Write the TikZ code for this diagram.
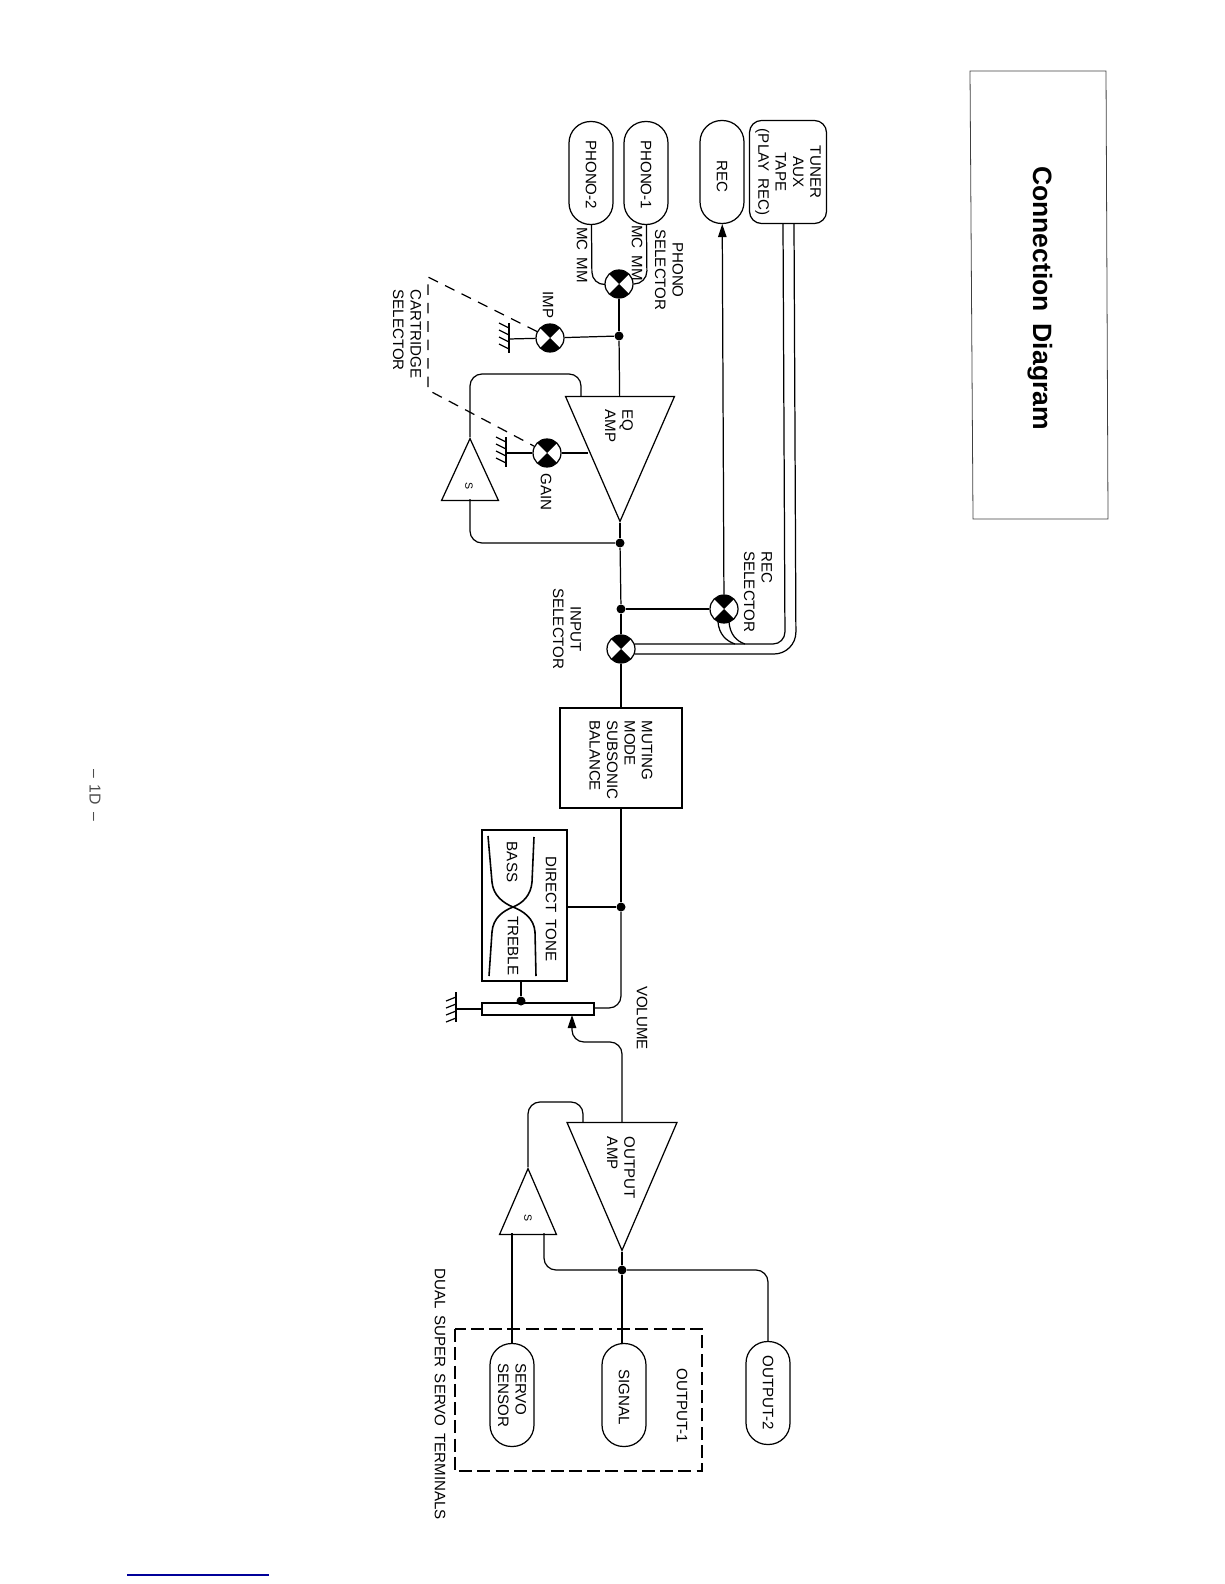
\documentclass[tikz,border=0pt]{standalone}
\usepackage{fontspec}
\setmainfont[WordSpace=1.6]{Liberation Sans}
\usetikzlibrary{arrows.meta, shapes.geometric, positioning}

\begin{document}
\begin{tikzpicture}[
    x=0.02cm, y=-0.02cm,
    font=\fontsize{8.6}{9.9}\selectfont,
    line width=0.7pt,
    lbl/.style={rotate=-90, align=left, inner sep=0},
    lblc/.style={rotate=-90, align=center, inner sep=0},
    jack/.style={draw, rotate=-90, rounded corners=0.43cm, minimum width=2.06cm, minimum height=0.88cm,
                 align=center, inner sep=0},
    sel/.style={draw, circle, minimum size=0.56cm, inner sep=0, path picture={
        \fill (path picture bounding box.center) -- (path picture bounding box.north east)
              -- (path picture bounding box.north west) -- cycle;
        \fill (path picture bounding box.center) -- (path picture bounding box.south east)
              -- (path picture bounding box.south west) -- cycle;}},
    dot/.style={fill, circle, minimum size=0.18cm, inner sep=0},
    amp/.style={draw, isosceles triangle, isosceles triangle stretches, shape border rotate=-90,
                anchor=apex, inner sep=0},
    servo/.style={amp, shape border rotate=90},
    ar/.style={-{Triangle[length=2.6mm, width=1.7mm]}},
    pics/grnd/.style={code={
        \draw (0,-15) -- (0,15);
        \foreach \k in {-10,-3,4,11}
           \draw (0,\k) -- (-10,\k+#1);
    }}
]
\useasboundingbox (0,0) rectangle (1224,1584);

% Title box
\draw[line width=0.45pt, black!75] (970,71) -- (1106,71) -- (1108,519) -- (973,519) -- cycle;
\node[rotate=-90, inner sep=0, font=\fontsize{15.1}{18}\selectfont\bfseries] (title) at (1040,298) {Connection Diagram};

% Input jacks
\node[jack] (phonob) at (591,173) {\hspace*{2pt}PHONO-2};
\node[jack] (phonoa) at (646,173) {\hspace*{2pt}PHONO-1};
\node[jack] (rec) at (722,172) {\hspace*{5pt}REC};
\node[jack, minimum height=1.54cm, rounded corners=0.24cm] (tuner) at (788,172) {TUNER\\AUX\\TAPE\\(PLAY REC)};

% Selectors
\node[sel] (phonosel) at (619,284) {};
\node[sel] (imp) at (550,338) {};
\node[sel] (gain) at (547,453) {};
\node[sel] (recsel) at (724,609) {};
\node[sel] (inputsel) at (621,649) {};

% Junctions
\node[dot] (da) at (619,336) {};
\node[dot] (db) at (620,543) {};
\node[dot] (dc) at (621,609) {};
\node[dot] (dd) at (621,907) {};
\node[dot] (de) at (521,1001) {};
\node[dot] (df) at (622,1270) {};

% Amplifiers
\node[amp, minimum width=2.18cm, minimum height=2.5cm] (eqamp) at (620,523) {};
\node[lbl] (eqlbl) at (619,426) {EQ\\AMP};
\node[servo, minimum width=1.14cm, minimum height=1.24cm] (servoa) at (470,437) {};
\node[rotate=-90, inner sep=0, font=\fontsize{6}{7}\selectfont] (sa) at (469,486) {S};
\node[amp, minimum width=2.2cm, minimum height=2.56cm] (outamp) at (622,1252) {};
\node[lbl] (outlbl) at (621,1168) {OUTPUT\\AMP};
\node[servo, minimum width=1.14cm, minimum height=1.32cm] (servob) at (528,1167) {};
\node[rotate=-90, inner sep=0, font=\fontsize{6}{7}\selectfont] (sb) at (528,1218) {S};

% Blocks
\node[draw, rotate=-90, minimum width=2cm, minimum height=2.44cm] (mute) at (621,758) {};
\node[lbl] (mutelbl) at (621,760) {MUTING\\MODE\\SUBSONIC\\BALANCE};
\node[draw, minimum width=1.7cm, minimum height=3.02cm] (tone) at (524.5,905.5) {};
\node[draw, minimum width=2.24cm, minimum height=0.24cm] (pot) at (538,1009) {};
\node[jack, align=left] (sensor) at (512,1395) {SERVO\\SENSOR};
\node[jack] (signal) at (624,1395) {\hspace*{2pt}SIGNAL};
\node[jack] (outb) at (768,1393) {OUTPUT-2};

% Tone curves
\draw[line width=0.9pt] (488,836) -- (492,882) .. controls (493,895) and (503,903) .. (513,907)
      .. controls (523,911) and (534,918) .. (535,932) -- (536,976);
\draw[line width=0.9pt] (534,837) -- (532,882) .. controls (531,895) and (523,903) .. (513,907)
      .. controls (503,911) and (493,918) .. (492,932) -- (489,976);

% Labels
\node[lblc] (phonolbl) at (669,270) {PHONO\\SELECTOR};
\node[lbl] (mcb) at (582,255) {MC MM};
\node[lbl] (mca) at (637,253) {MC MM};
\node[lbl] (implbl) at (548,305) {IMP};
\node[lbl] (cartlbl) at (407,334) {CARTRIDGE\\SELECTOR};
\node[lbl] (gainlbl) at (546,492) {GAIN};
\node[lbl] (reclbl) at (758,592) {REC\\SELECTOR};
\node[lblc] (inputlbl) at (567,629) {INPUT\\SELECTOR};
\node[lbl] (directlbl) at (551,909) {DIRECT TONE};
\node[lbl] (basslbl) at (512,862) {BASS};
\node[lbl] (treblelbl) at (513,946) {TREBLE};
\node[lbl] (vollbl) at (642,1018) {VOLUME};
\node[lbl] (outalbl) at (682,1406) {OUTPUT-1};
\node[lbl] (duallbl) at (440,1394) {DUAL SUPER SERVO TERMINALS};
\node[rotate=-90, inner sep=0, black!70, font=\fontsize{9}{10}\selectfont] (page) at (95,795) {-- 1D --};

% Signal path
\foreach \a/\b in {phonosel/da, da/eqamp, eqamp.apex/db, db/dc, dc/inputsel, inputsel/mute, da/imp, dc/recsel, outamp.apex/df}
   \draw (\a) -- (\b);
\draw (dd) -- (tone.east |- dd);
\draw (mute) -- (dd);
\draw (df) -- (df |- signal.west);
\draw (gain) -- (588,453);
\draw[ar] (recsel) -- (rec);
\draw[rounded corners=0.26cm] (phonob) -- (592,285) -- (phonosel);
\draw[rounded corners=0.26cm] (phonoa) -- (647,284) -- (phonosel);

% Tape loop
\draw[rounded corners=0.24cm] (783,224) -- (785,644) -- (inputsel.20);
\draw[rounded corners=0.44cm] (794,224) -- (796,654) -- (inputsel.-20);
\draw (718,622) .. controls (719,634) and (726,641) .. (735,644);
\draw (729,622) .. controls (730,634) and (736,641) .. (745,644);

% Feedback loops
\draw[rounded corners=0.24cm] (581,396) -- (581,374) -- (470,374) -- (servoa.apex);
\draw[rounded corners=0.24cm] (470,499) -- (470,543) -- (db);
\draw[rounded corners=0.24cm] (583,1122) -- (583,1102) -- (528,1102) -- (servob.apex);
\draw[rounded corners=0.24cm] (544,1233) -- (544,1270) -- (df);
\draw[rounded corners=0.24cm] (df) -- (768,1270) -- (outb);
\draw (512,1233) -- (sensor);

% Volume
\draw[rounded corners=0.24cm] (dd) -- (621,1008) -- (594,1008);
\draw (521,981) -- (de);
\draw (pot.west) -- (456,1009);
\coordinate (wiper) at (572,1015);
\draw[rounded corners=0.24cm, ar] (622,1122) -- (622,1042) -- (572,1042) -- (wiper);

% Ground symbols
\draw (imp) -- (509,339);
\draw (gain) -- (506,453);
\pic at (509,338) {grnd=-5};
\pic at (506,452) {grnd=-5};
\pic at (456,1007) {grnd=4};

% Cartridge link
\draw[dash pattern=on 6pt off 4.5pt] (imp) -- (428,277) -- (428,390) -- (gain);

% Output-1 group
\draw[line width=0.6pt, dash pattern=on 7.4pt off 3pt] (455,1329) rectangle (702,1471);

% Page rule
\draw[line width=1pt, blue!60!black] (127,1575) -- (269,1575);
\end{tikzpicture}
\end{document}
